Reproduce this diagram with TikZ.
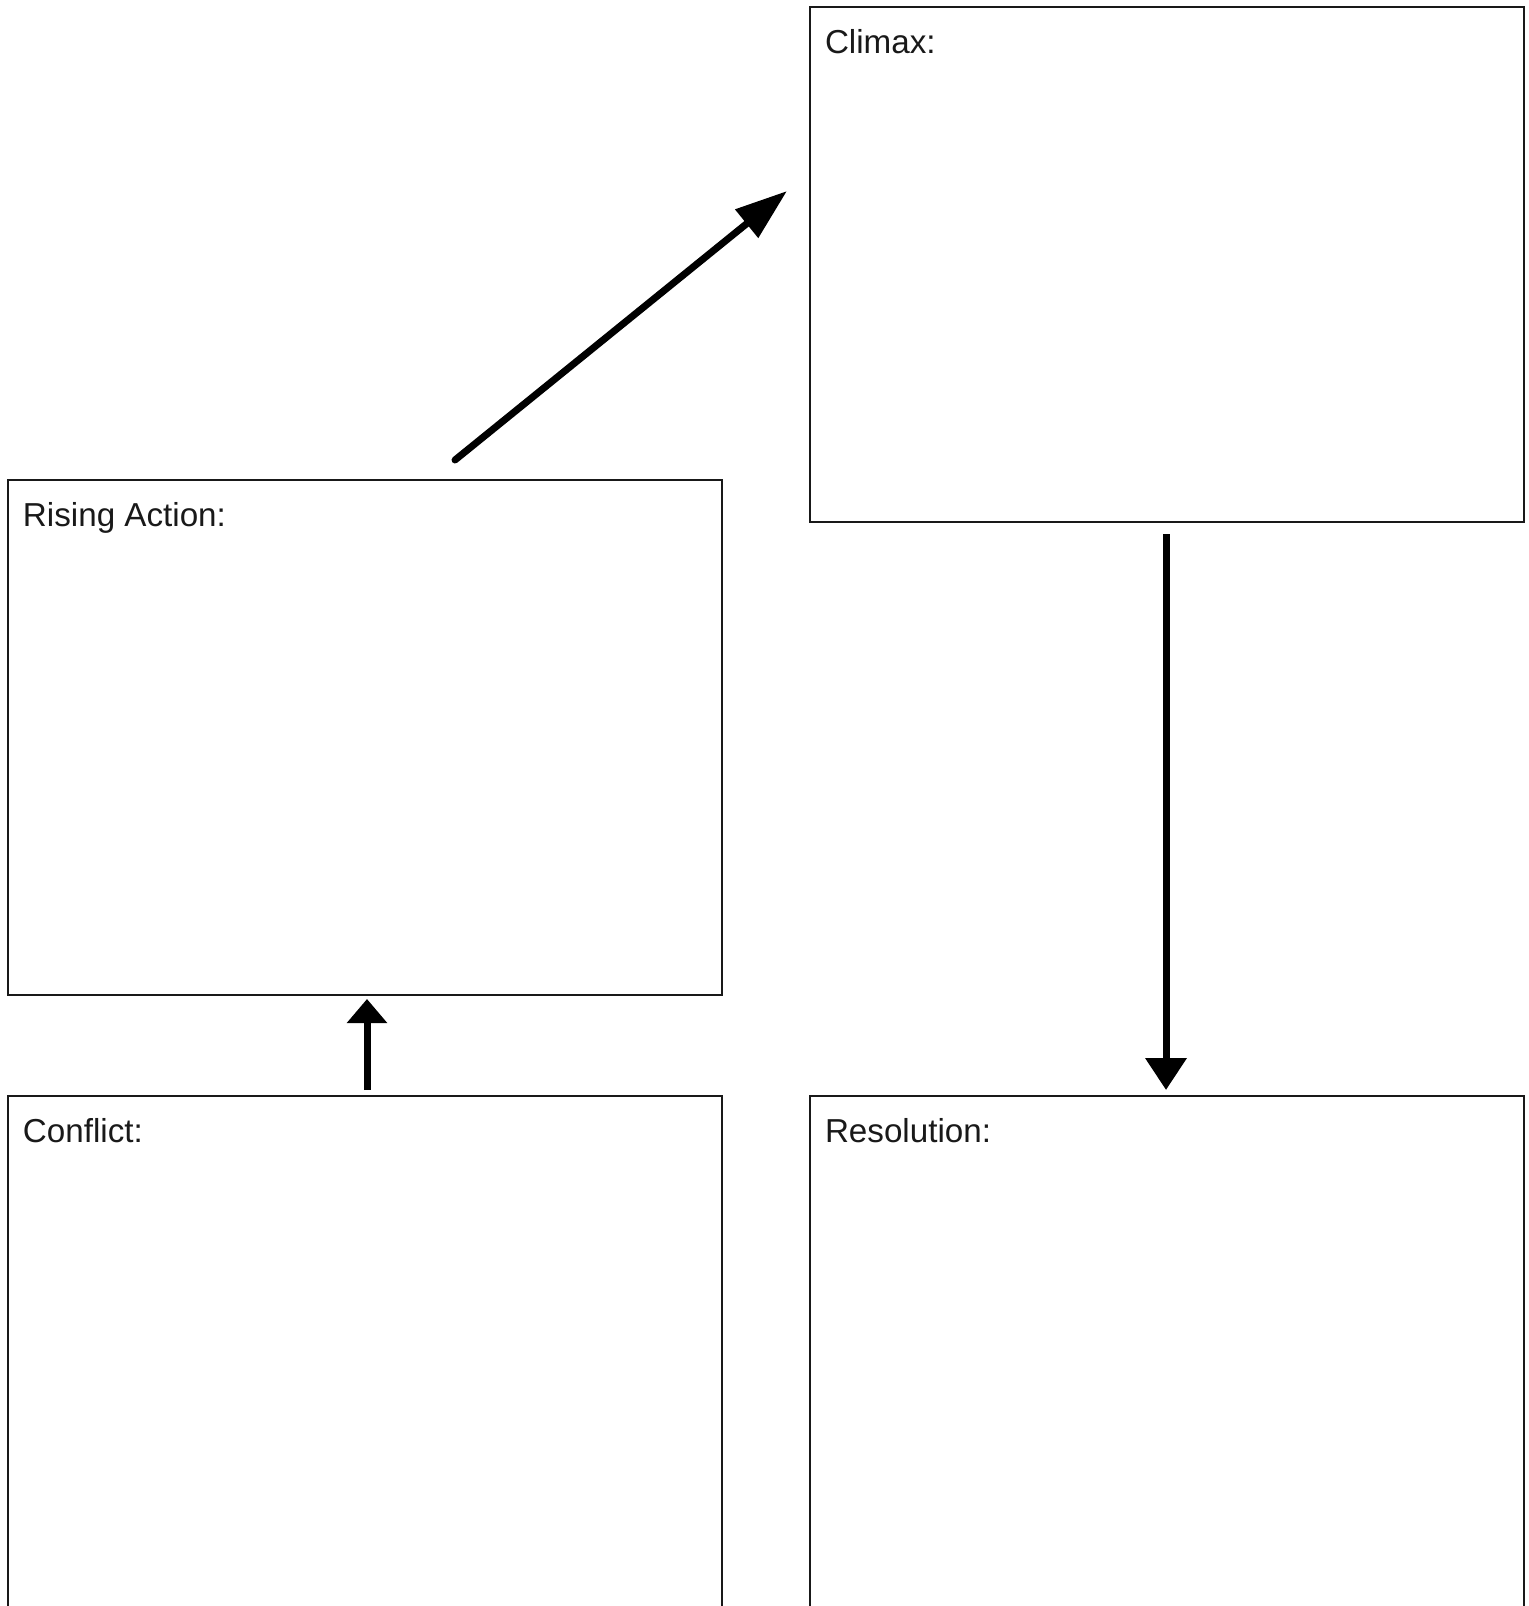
\documentclass[tikz,border=0pt]{standalone}
\usepackage{fontspec}
\setmainfont{Liberation Sans}
\usetikzlibrary{arrows.meta}
\definecolor{ink}{rgb}{0.1,0.1,0.1}
\tikzset{
  stagebox/.style={draw=ink, line width=1pt, minimum width=357pt, minimum height=257.5pt,
    inner sep=0pt, anchor=north west},
  stagetext/.style={anchor=north west, inner sep=0pt, xshift=7.8pt, yshift=-11.6pt,
    font=\fontsize{16.6}{19}\selectfont, text=ink},
  plotarrow/.style={line width=3.5pt, line cap=round}
}

\begin{document}
\begin{tikzpicture}[x=0.5pt, y=-0.5pt]
\useasboundingbox (0,0) rectangle (1528,1606);
\clip (0,0) rectangle (1528,1606);
\node[stagebox, label={[stagetext]north west:Rising Action:}] (rising) at (7,479) {};
\node[stagebox, label={[stagetext]north west:Climax:}] (climax) at (809,6) {};
\node[stagebox, label={[stagetext]north west:Conflict:}] (conflict) at (7,1095) {};
\node[stagebox, label={[stagetext]north west:Resolution:}] (resolution) at (809,1095) {};
\coordinate (risetail) at ([shift={(448,-19)}]rising.north west);
\coordinate (risetip) at ([shift={(-22,185)}]climax.north west);
\draw[plotarrow, -{Triangle[length=26pt, width=17.5pt]}] (risetail) -- (risetip);
\draw[plotarrow, line width=3.5pt, line cap=butt, shorten <=2.5pt, shorten >=1.5pt,
  -{Triangle[length=12pt, width=19.5pt]}] ([xshift=1pt]conflict.north) -- ([xshift=1pt]rising.south);
\draw[plotarrow, line cap=butt, shorten <=5.5pt, shorten >=2.5pt,
  -{Triangle[length=16pt, width=20pt]}] ([xshift=-0.5pt]climax.south) -- ([xshift=-0.5pt]resolution.north);
\end{tikzpicture}
\end{document}
